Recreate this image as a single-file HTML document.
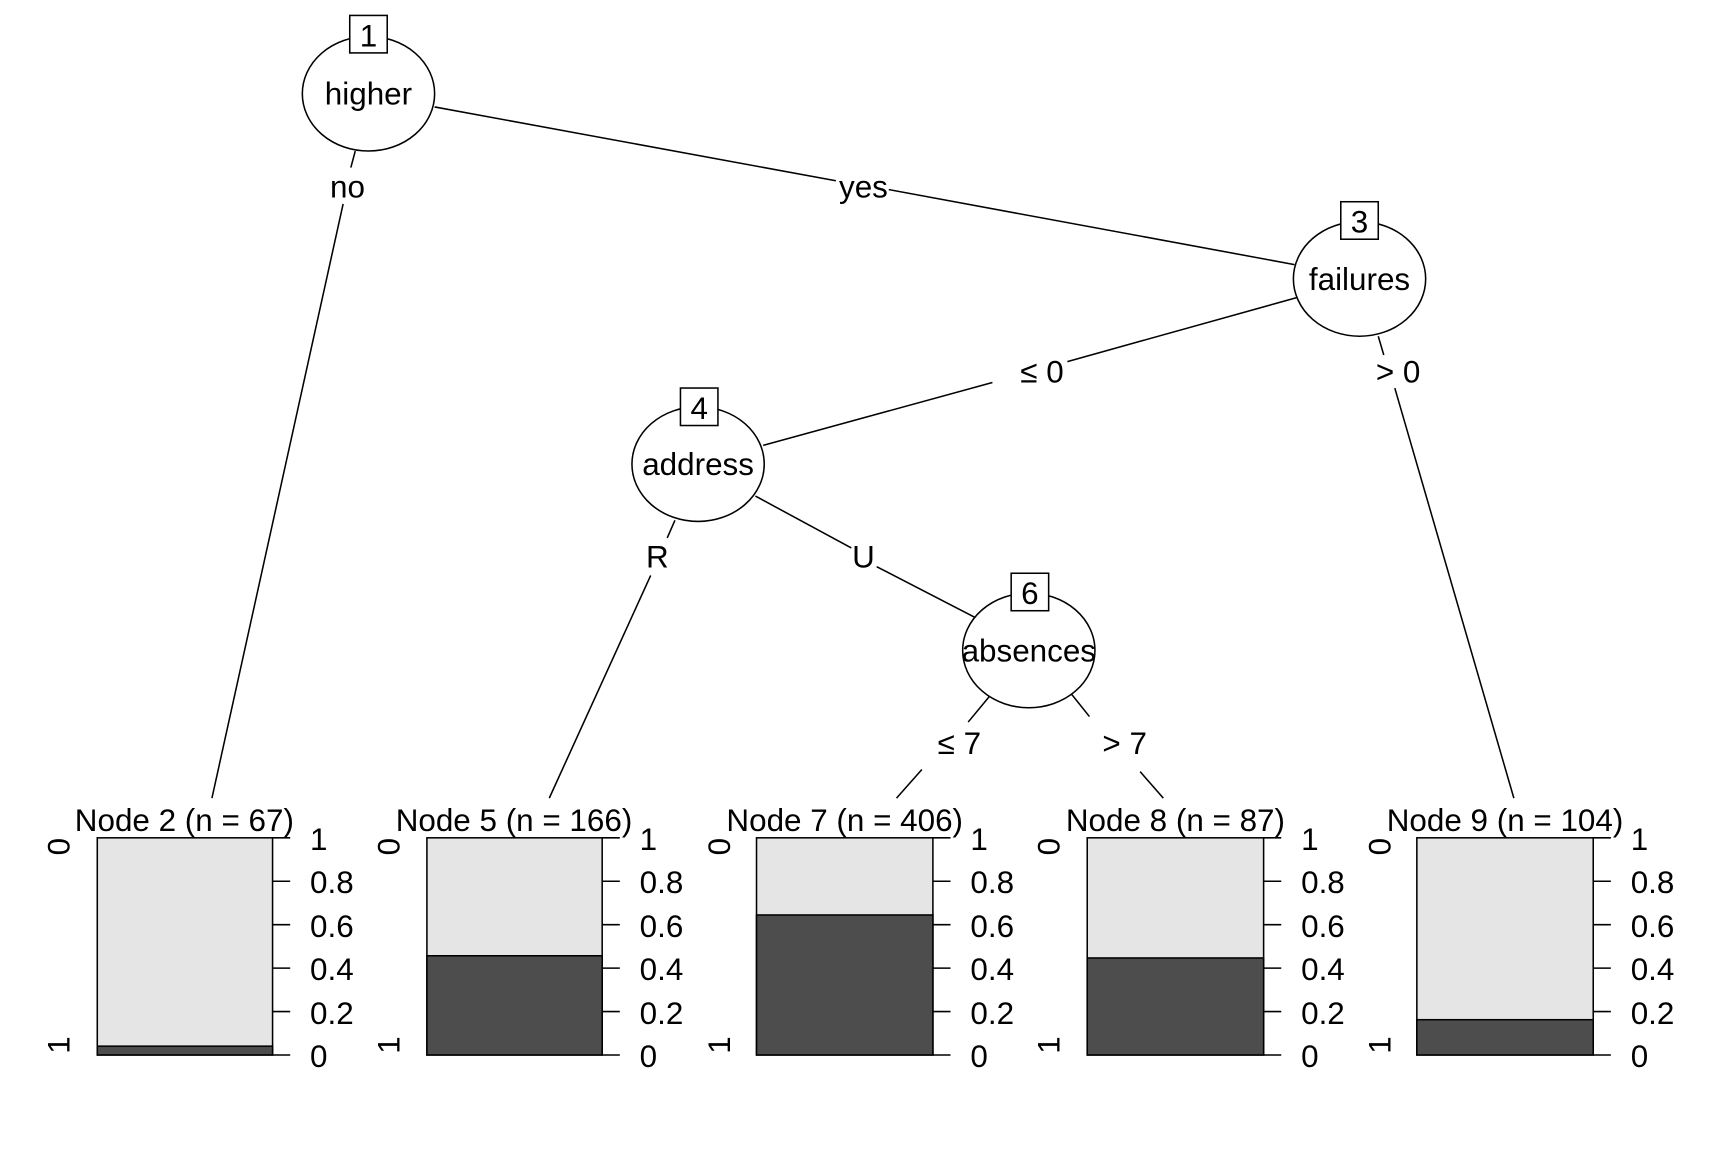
<!DOCTYPE html>
<html><head><style>html,body{margin:0;padding:0;background:#fff}svg{display:block}</style></head>
<body>
<svg width="1728" height="1152" viewBox="0 0 1567 1045" xmlns="http://www.w3.org/2000/svg" font-family="Liberation Sans, Arial, sans-serif" font-size="28.5">
<rect width="1567" height="1045" fill="#fff"/>
<g stroke="#000" stroke-width="1.4" fill="none">
<line x1="322" y1="137" x2="318" y2="152"/><line x1="311" y1="185" x2="192" y2="724"/>
<line x1="394" y1="97" x2="758" y2="164"/><line x1="806" y1="172" x2="1174" y2="240"/>
<line x1="1176" y1="270" x2="968" y2="328"/><line x1="900" y1="347" x2="692" y2="404"/>
<line x1="1250" y1="305" x2="1255" y2="322"/><line x1="1265" y1="352" x2="1373" y2="724"/>
<line x1="612" y1="472" x2="605" y2="488"/><line x1="590" y1="522" x2="498" y2="724"/>
<line x1="685" y1="450" x2="772" y2="497"/><line x1="795" y1="514" x2="884" y2="560"/>
<line x1="897" y1="632" x2="878" y2="655"/><line x1="836" y1="698" x2="813" y2="724"/>
<line x1="972" y1="630" x2="988" y2="650"/><line x1="1034" y1="700" x2="1055" y2="724"/>
</g>
<g stroke="#000" stroke-width="1.4" fill="#fff">
<ellipse cx="334" cy="85" rx="60" ry="52"/>
<ellipse cx="1233" cy="253" rx="60" ry="52"/>
<ellipse cx="633" cy="421" rx="60" ry="52"/>
<ellipse cx="933" cy="590" rx="60" ry="52"/>
<rect x="317" y="14" width="34" height="34"/>
<rect x="1216" y="183" width="34" height="34"/>
<rect x="617" y="352" width="34" height="34"/>
<rect x="917" y="520" width="34" height="34"/>
</g>
<g text-anchor="middle" fill="#000">
<text x="334" y="42">1</text><text x="1233" y="211">3</text><text x="634" y="380">4</text><text x="934" y="548">6</text>
<text x="334" y="95">higher</text><text x="1233" y="263">failures</text><text x="633" y="431">address</text><text x="933" y="600">absences</text>
<text x="315" y="179">no</text><text x="783" y="179">yes</text>
<text x="945" y="347">≤ 0</text><text x="1268" y="347">&gt; 0</text>
<text x="596" y="515">R</text><text x="783" y="515">U</text>
<text x="870" y="684">≤ 7</text><text x="1020" y="684">&gt; 7</text>
</g>
<g stroke="#000" stroke-width="1.4">
<rect x="88" y="760" width="159" height="197" fill="#e5e5e5"/><rect x="88" y="949" width="159" height="8" fill="#4d4d4d"/>
<rect x="387" y="760" width="159" height="197" fill="#e5e5e5"/><rect x="387" y="867" width="159" height="90" fill="#4d4d4d"/>
<rect x="686" y="760" width="160" height="197" fill="#e5e5e5"/><rect x="686" y="830" width="160" height="127" fill="#4d4d4d"/>
<rect x="986" y="760" width="160" height="197" fill="#e5e5e5"/><rect x="986" y="869" width="160" height="88" fill="#4d4d4d"/>
<rect x="1285" y="760" width="160" height="197" fill="#e5e5e5"/><rect x="1285" y="925" width="160" height="32" fill="#4d4d4d"/>
</g>
<g stroke="#000" stroke-width="1.4">
<path d="M247 760h16M247 799.4h16M247 838.8h16M247 878.2h16M247 917.6h16M247 957h16"/>
<path d="M546 760h16M546 799.4h16M546 838.8h16M546 878.2h16M546 917.6h16M546 957h16"/>
<path d="M846 760h16M846 799.4h16M846 838.8h16M846 878.2h16M846 917.6h16M846 957h16"/>
<path d="M1146 760h16M1146 799.4h16M1146 838.8h16M1146 878.2h16M1146 917.6h16M1146 957h16"/>
<path d="M1445 760h16M1445 799.4h16M1445 838.8h16M1445 878.2h16M1445 917.6h16M1445 957h16"/>
</g>
<g fill="#000" text-anchor="middle">
<text x="167" y="754">Node 2 (n = 67)</text>
<text x="466" y="754">Node 5 (n = 166)</text>
<text x="766" y="754">Node 7 (n = 406)</text>
<text x="1066" y="754">Node 8 (n = 87)</text>
<text x="1365" y="754">Node 9 (n = 104)</text>
</g>
<g fill="#000">
<g transform="translate(281,0)"><text y="771">1</text><text y="810">0.8</text><text y="850">0.6</text><text y="889">0.4</text><text y="929">0.2</text><text y="968">0</text></g>
<g transform="translate(580,0)"><text y="771">1</text><text y="810">0.8</text><text y="850">0.6</text><text y="889">0.4</text><text y="929">0.2</text><text y="968">0</text></g>
<g transform="translate(880,0)"><text y="771">1</text><text y="810">0.8</text><text y="850">0.6</text><text y="889">0.4</text><text y="929">0.2</text><text y="968">0</text></g>
<g transform="translate(1180,0)"><text y="771">1</text><text y="810">0.8</text><text y="850">0.6</text><text y="889">0.4</text><text y="929">0.2</text><text y="968">0</text></g>
<g transform="translate(1479,0)"><text y="771">1</text><text y="810">0.8</text><text y="850">0.6</text><text y="889">0.4</text><text y="929">0.2</text><text y="968">0</text></g>
</g>
<g fill="#000" text-anchor="middle">
<text transform="translate(63,768) rotate(-90)">0</text><text transform="translate(63,948) rotate(-90)">1</text>
<text transform="translate(362,768) rotate(-90)">0</text><text transform="translate(362,948) rotate(-90)">1</text>
<text transform="translate(662,768) rotate(-90)">0</text><text transform="translate(662,948) rotate(-90)">1</text>
<text transform="translate(961,768) rotate(-90)">0</text><text transform="translate(961,948) rotate(-90)">1</text>
<text transform="translate(1261,768) rotate(-90)">0</text><text transform="translate(1261,948) rotate(-90)">1</text>
</g>
</svg>
</body></html>
